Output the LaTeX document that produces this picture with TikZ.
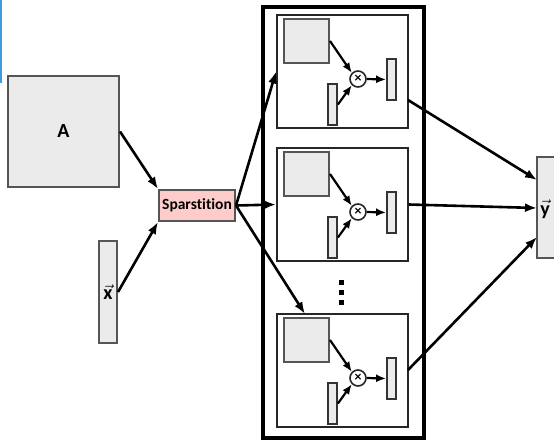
\documentclass[tikz,border=0pt]{standalone}
\usepackage{fontspec}
\setmainfont{Carlito}[Ligatures=NoCommon]
\usetikzlibrary{arrows.meta}

\definecolor{cellgray}{HTML}{EBEBEB}
\definecolor{edgegray}{HTML}{555555}
\definecolor{splitpink}{HTML}{FFCCCC}
\definecolor{stripblue}{HTML}{3D9BE3}

\tikzset{
    block/.style={draw=edgegray, fill=cellgray, line width=2pt, inner sep=0pt, font=\bfseries\fontsize{20}{24}\selectfont},
    bar/.style={draw=black!80, fill=cellgray, line width=1.8pt, minimum width=9pt, minimum height=41pt, inner sep=0pt},
    unitbox/.style={draw=black!85, line width=1.8pt, minimum width=131pt, minimum height=113pt, inner sep=0pt},
    mult/.style={circle, draw=black!85, fill=white, line width=1.6pt, minimum size=16pt, inner sep=0pt, font=\bfseries\fontsize{14}{14}\selectfont},
    flow/.style={-{Latex[length=12pt,width=9pt]}, line width=2.6pt},
    innerflow/.style={-{Latex[length=10pt,width=8pt]}, line width=2.2pt},
}

\begin{document}
\begin{tikzpicture}[x=1pt, y=-1pt]
    \useasboundingbox (0,0) rectangle (554,440);
    % Strip on the left edge
    \fill[stripblue] (0,0) rectangle (2,83);
    % Inputs
    \node[block, minimum width=111pt, minimum height=111pt] (A) at (63.5,131.5) {A};
    \node[block, minimum width=18pt, minimum height=102pt] (x) at (108,292) {$\vec{\mbox{\textbf{x}}}$};
    \node[block, fill=splitpink, minimum width=76pt, minimum height=31pt, font=\bfseries\fontsize{15.5}{18}\selectfont] (split) at (197,205.5) {Sparstition};
    % Output
    \node[block, minimum width=20pt, minimum height=101pt] (y) at (547,207.5) {};
    \node[font=\bfseries\fontsize{20}{24}\selectfont] (ylab) at (545,209) {$\vec{\mbox{\textbf{y}}}$};
    % Outer frame around the units
    \draw[line width=3.5pt] (263,7) rectangle (424,438);
    % The three units
    \foreach \name/\top in {one/15, two/148, three/314} {
        \node[unitbox] (\name) at (342.5,\top+56.5) {};
        \node[block, minimum width=45pt, minimum height=44pt] (\name-mat) at (306.5,\top+26) {};
        \node[bar] (\name-vec) at (332.5,\top+89.5) {};
        \node[mult] (\name-mul) at (358,\top+64) {×};
        \node[bar] (\name-out) at (391.5,\top+64.5) {};
        \draw[innerflow] (\name-mat.east) -- (\name-mul.north west);
        \draw[innerflow] (\name-vec.east) -- (\name-mul.south west);
        \draw[innerflow] (\name-mul.east) -- (\name-out.west);
    }
    % Vertical dots between the units
    \foreach \dy in {282,292,302}
        \fill (339,\dy-2.5) rectangle (343.5,\dy+2.5);
    % Connector ends
    \coordinate (three-in) at (305,314);
    \coordinate (one-off) at (408,100);
    \coordinate (three-off) at (408,370);
    \coordinate (y-top) at (537,180);
    \coordinate (y-mid) at (537,208);
    \coordinate (y-low) at (537,237);
    % Connectors
    \draw[flow] (A.east) -- (split.north west);
    \draw[flow] (x.east) -- (split.south west);
    \draw[flow] (split.east) -- (one.west);
    \draw[flow] (split.east) -- (two.west);
    \draw[flow] (split.east) -- (three-in);
    \draw[flow] (one-off) -- (y-top);
    \draw[flow] (two.east) -- (y-mid);
    \draw[flow] (three-off) -- (y-low);
\end{tikzpicture}
\end{document}
